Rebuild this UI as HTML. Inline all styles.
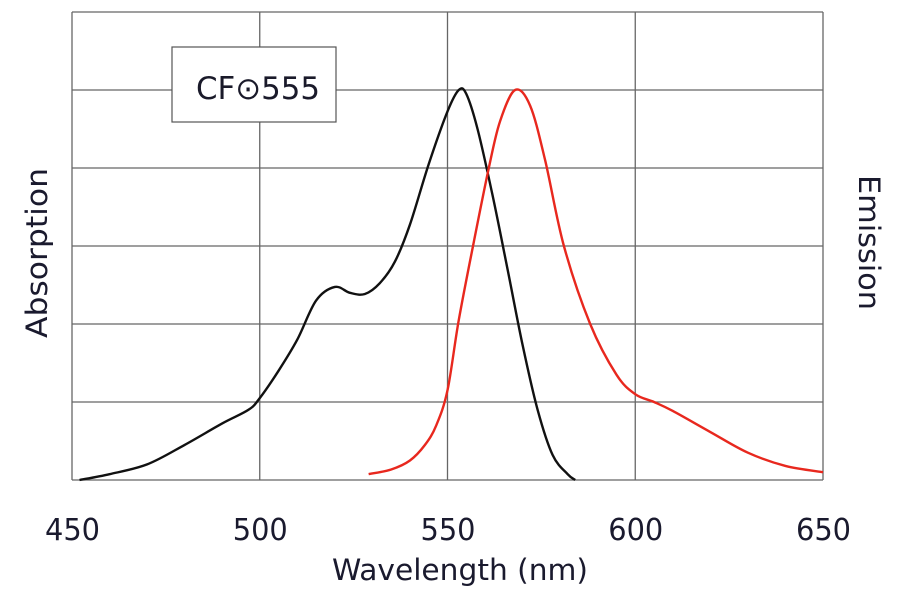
<!DOCTYPE html>
<html><head><meta charset="utf-8">
<style>
html,body{margin:0;padding:0;background:#fff;}
svg{display:block;font-family:"DejaVu Sans Condensed","DejaVu Sans","Liberation Sans",sans-serif;}
</style></head>
<body>
<svg id="chart" width="900" height="594" viewBox="0 0 900 594">
<g id="grid"></g>
<g id="ticks"></g>
<rect x="172" y="47" width="164" height="75" fill="#fff" stroke="#555" stroke-width="1.2"/>
<text x="196" y="99" font-size="31" fill="#1a1a2a" textLength="124" lengthAdjust="spacingAndGlyphs">CF⊙555</text>
<text x="332" y="580" font-size="29" fill="#1a1a2e" textLength="256" lengthAdjust="spacingAndGlyphs">Wavelength (nm)</text>
<text transform="translate(47,338) rotate(-90)" font-size="29" fill="#1a1a2e" textLength="170" lengthAdjust="spacingAndGlyphs">Absorption</text>
<text transform="translate(859,175) rotate(90)" font-size="29" fill="#1a1a2e" textLength="135" lengthAdjust="spacingAndGlyphs">Emission</text>
</svg>
<script>
const xTicks=[450,500,550,600,650];
const yGrid=[0,0.2,0.4,0.6,0.8,1.0,1.2];
const absWl=[452,460,470,480,490,497,500,505,510,515,520,524,528,532,536,540,545,550,553,555,558,562,566,570,574,578,582,584];
const absVal=[0,0.015,0.04,0.09,0.145,0.18,0.21,0.28,0.36,0.46,0.495,0.48,0.477,0.505,0.56,0.655,0.81,0.945,1.0,0.99,0.9,0.73,0.54,0.346,0.18,0.064,0.015,0];
const emWl=[529,535,540,544,547,550,553,557,561,564,568,572,576,581,588,595,600,605,610,620,630,640,650];
const emVal=[0.015,0.027,0.05,0.09,0.14,0.23,0.41,0.61,0.8,0.92,1.0,0.96,0.82,0.6,0.4,0.27,0.22,0.2,0.177,0.123,0.07,0.036,0.02];
const X0=72,X1=823,Y0=480,Y1=90;
const xs=w=>X0+(w-450)/(650-450)*(X1-X0);
const ys=v=>Y0-v*(Y0-Y1);
const NS='http://www.w3.org/2000/svg';
const svg=document.getElementById('chart');
const grid=document.getElementById('grid');
const ticks=document.getElementById('ticks');
function mk(t,a,p){const e=document.createElementNS(NS,t);for(const k in a)e.setAttribute(k,a[k]);p.appendChild(e);return e;}
yGrid.forEach(v=>{const l=mk('line',{x1:X0,x2:X1,y1:ys(v),y2:ys(v),stroke:'#666','stroke-width':1.3},grid);

});
xTicks.forEach(w=>{const l=mk('line',{x1:xs(w),x2:xs(w),y1:ys(1.2),y2:ys(0),stroke:'#666','stroke-width':1.3},grid);


const t=mk('text',{x:xs(w)-27,y:540,'font-size':30,fill:'#1a1a2e',textLength:55,lengthAdjust:'spacingAndGlyphs'},ticks);t.textContent=w;

});
function path(wl,val){const p=wl.map((w,i)=>[xs(w),ys(val[i])]);let d='M'+p[0][0]+','+p[0][1];
for(let i=0;i<p.length-1;i++){const a=p[i-1]||p[i],b=p[i],c=p[i+1],e=p[i+2]||c;
d+=' C'+(b[0]+(c[0]-a[0])/6)+','+(b[1]+(c[1]-a[1])/6)+' '+(c[0]-(e[0]-b[0])/6)+','+(c[1]-(e[1]-b[1])/6)+' '+c[0]+','+c[1];}return d;}
const pa=mk('path',{d:path(absWl,absVal),fill:'none',stroke:'#111','stroke-width':2.4},svg);


const pe=mk('path',{d:path(emWl,emVal),fill:'none',stroke:'#e8281e','stroke-width':2.4},svg);


</script>
</body></html>
